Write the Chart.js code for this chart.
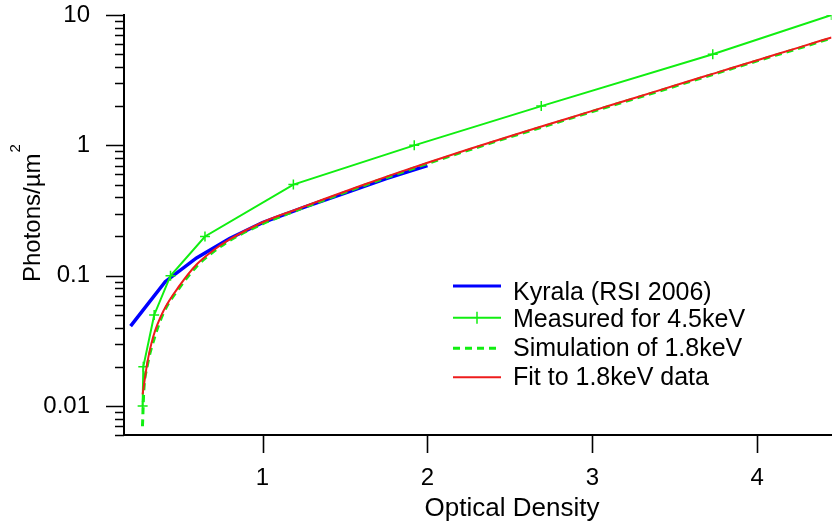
<!DOCTYPE html>
<html>
<head>
<meta charset="utf-8">
<script src="https://cdn.jsdelivr.net/npm/chart.js@4.4.0/dist/chart.umd.min.js"></script>
<style>
  html, body { margin: 0; padding: 0; background: #fff; }
  #wrap { width: 838px; height: 524px; }
</style>
</head>
<body>
<div id="wrap"><canvas id="chart" width="838" height="524"></canvas></div>
<script>
// Kyrala (RSI 2006)
const kyralaX = [0.2, 0.41, 0.6, 0.8, 1.0, 1.25, 1.5, 1.75, 2.0];
const kyralaY = [0.041, 0.09, 0.137, 0.193, 0.255, 0.335, 0.43, 0.555, 0.70];

// Measured for 4.5keV
const measuredX = [0.273, 0.277, 0.343, 0.442, 0.651, 1.187, 1.92, 2.69, 3.73, 4.45];
const measuredY = [0.01, 0.02, 0.05, 0.1, 0.2, 0.5, 1, 2, 5, 10];

// Simulation of 1.8keV
const simX = [0.272, 0.28, 0.3, 0.34, 0.4, 0.5, 0.6, 0.7, 0.8, 1.0, 1.2, 1.4, 1.6, 1.8, 2.0, 2.25, 2.5, 2.75, 3.0, 3.25, 3.5, 3.75, 4.0, 4.25, 4.45];
const simY = [0.007, 0.013, 0.02, 0.032, 0.052, 0.082, 0.118, 0.152, 0.186, 0.25, 0.315, 0.392, 0.485, 0.595, 0.725, 0.92, 1.16, 1.45, 1.82, 2.27, 2.84, 3.56, 4.45, 5.55, 6.65];

// Fit to 1.8keV data
const fitX = [0.273, 0.3, 0.337, 0.4, 0.5, 0.6, 0.7, 0.8, 1.0, 1.2, 1.4, 1.6, 1.8, 2.0, 2.25, 2.5, 2.75, 3.0, 3.25, 3.5, 3.75, 4.0, 4.25, 4.45];
const fitY = [0.0123, 0.021, 0.034, 0.054, 0.085, 0.122, 0.156, 0.19, 0.257, 0.321, 0.398, 0.492, 0.604, 0.736, 0.933, 1.175, 1.47, 1.84, 2.3, 2.88, 3.6, 4.5, 5.62, 6.73];

// axes
const xTicks = [1, 2, 3, 4];
const yMajor = [0.01, 0.1, 1, 10];

const FONT = "'Liberation Sans', Arial, sans-serif";
const BLUE = '#0000ff';
const GREEN = '#11ee11';
const RED = '#ee1c1c';

const toPoints = (xs, ys) => xs.map((x, i) => ({ x: x, y: ys[i] }));

// tick marks of different length (major / minor), drawn outward
const tickMarks = {
  id: 'tickMarks',
  afterDraw(chart) {
    const { ctx, scales: { x, y } } = chart;
    ctx.save();
    ctx.strokeStyle = '#000';
    ctx.lineWidth = 1.6;
    ctx.beginPath();
    y.ticks.forEach(t => {
      const py = Math.round(y.getPixelForValue(t.value)) + 0.5;
      const len = yMajor.includes(t.value) ? 18 : 9;
      ctx.moveTo(y.right - len, py);
      ctx.lineTo(y.right, py);
    });
    x.ticks.forEach(t => {
      const px = Math.round(x.getPixelForValue(t.value)) + 0.5;
      ctx.moveTo(px, x.top);
      ctx.lineTo(px, x.top + 18);
    });
    ctx.stroke();
    ctx.restore();
  }
};

// axis titles (y title has a raised superscript)
const axisTitles = {
  id: 'axisTitles',
  afterDraw(chart) {
    const ctx = chart.ctx;
    ctx.save();
    ctx.fillStyle = '#000';
    ctx.textBaseline = 'alphabetic';

    ctx.font = '26px ' + FONT;
    ctx.textAlign = 'center';
    ctx.fillText('Optical Density', 512, 516);

    ctx.translate(39.5, 282);
    ctx.rotate(-Math.PI / 2);
    ctx.textAlign = 'left';
    ctx.font = '24px ' + FONT;
    const main = 'Photons/µm';
    ctx.fillText(main, 0, 0);
    const w = ctx.measureText(main).width;
    ctx.font = '15px ' + FONT;
    ctx.fillText('2', w + 1, -20);
    ctx.restore();
  }
};

// legend inside plot area
const boxLegend = {
  id: 'boxLegend',
  afterDraw(chart) {
    const ctx = chart.ctx;
    const lineY = [286, 317.7, 348.3, 377.3];
    const textY = [291, 318.3, 347, 375.5];
    const x0 = 453, x1 = 501, tx = 513;
    ctx.save();
    chart.data.datasets.forEach((ds, i) => {
      ctx.strokeStyle = ds.borderColor;
      ctx.lineWidth = ds.legendWidth;
      ctx.setLineDash(ds.borderDash || []);
      ctx.beginPath();
      ctx.moveTo(x0, lineY[i]);
      ctx.lineTo(x1, lineY[i]);
      ctx.stroke();
      ctx.setLineDash([]);
      if (ds.pointRadius > 0) {
        const cx = (x0 + x1) / 2;
        ctx.lineWidth = 1.5;
        ctx.beginPath();
        ctx.moveTo(cx, lineY[i] - 6);
        ctx.lineTo(cx, lineY[i] + 6);
        ctx.stroke();
      }
      ctx.fillStyle = '#000';
      ctx.font = '25px ' + FONT;
      ctx.textAlign = 'left';
      ctx.textBaseline = 'alphabetic';
      ctx.fillText(ds.label, tx, textY[i] + 9);
    });
    ctx.restore();
  }
};

const ctx = document.getElementById('chart').getContext('2d');
new Chart(ctx, {
  type: 'line',
  data: {
    datasets: [
      {
        label: 'Kyrala (RSI 2006)',
        data: toPoints(kyralaX, kyralaY),
        borderColor: BLUE,
        borderWidth: 3.5,
        legendWidth: 3,
        pointRadius: 0,
        tension: 0,
        order: 4
      },
      {
        label: 'Measured for 4.5keV',
        data: toPoints(measuredX, measuredY),
        borderColor: GREEN,
        borderWidth: 2,
        legendWidth: 2,
        pointStyle: 'cross',
        pointRadius: 5,
        pointBorderWidth: 1.5,
        pointBorderColor: GREEN,
        pointBackgroundColor: GREEN,
        tension: 0,
        order: 3
      },
      {
        label: 'Simulation of 1.8keV',
        data: toPoints(simX, simY),
        borderColor: GREEN,
        borderWidth: 3,
        legendWidth: 3,
        borderDash: [7, 5],
        pointRadius: 0,
        cubicInterpolationMode: 'monotone',
        order: 2
      },
      {
        label: 'Fit to 1.8keV data',
        data: toPoints(fitX, fitY),
        borderColor: RED,
        borderWidth: 2,
        legendWidth: 2,
        pointRadius: 0,
        cubicInterpolationMode: 'monotone',
        order: 1
      }
    ]
  },
  options: {
    responsive: false,
    animation: false,
    layout: {
      padding: { top: 15, right: 2, left: 0, bottom: 0 }
    },
    scales: {
      x: {
        type: 'linear',
        min: 0.16,
        max: 4.45,
        afterBuildTicks: scale => {
          scale.ticks = xTicks.map(v => ({ value: v }));
        },
        afterFit: scale => {
          scale.height = 89;
          scale.paddingLeft = 0;
          scale.paddingRight = 0;
        },
        grid: { display: false, drawTicks: false },
        border: { display: true, color: '#000', width: 2 },
        ticks: {
          autoSkip: false,
          maxRotation: 0,
          padding: 29,
          color: '#000',
          font: { family: FONT, size: 24 },
          callback: value => String(value)
        }
      },
      y: {
        type: 'logarithmic',
        min: 0.006,
        max: 10,
        afterBuildTicks: scale => {
          const ticks = [];
          [6, 7, 8, 9].forEach(m => ticks.push({ value: +(m * 0.001).toPrecision(3) }));
          yMajor.forEach(d => {
            for (let m = 1; m <= 9; m++) {
              const v = m === 1 ? d : +(m * d).toPrecision(3);
              if (v <= 10) ticks.push({ value: v });
            }
          });
          scale.ticks = ticks;
        },
        afterFit: scale => {
          scale.width = 124;
          scale.paddingTop = 0;
          scale.paddingBottom = 0;
        },
        grid: { display: false, drawTicks: false },
        border: { display: true, color: '#000', width: 2 },
        ticks: {
          autoSkip: false,
          padding: 34,
          color: '#000',
          font: { family: FONT, size: 24 },
          callback: value => yMajor.includes(value) ? String(value) : ''
        }
      }
    },
    plugins: {
      legend: { display: false },
      tooltip: { enabled: false },
      title: { display: false }
    }
  },
  plugins: [tickMarks, axisTitles, boxLegend]
});
</script>
</body>
</html>
